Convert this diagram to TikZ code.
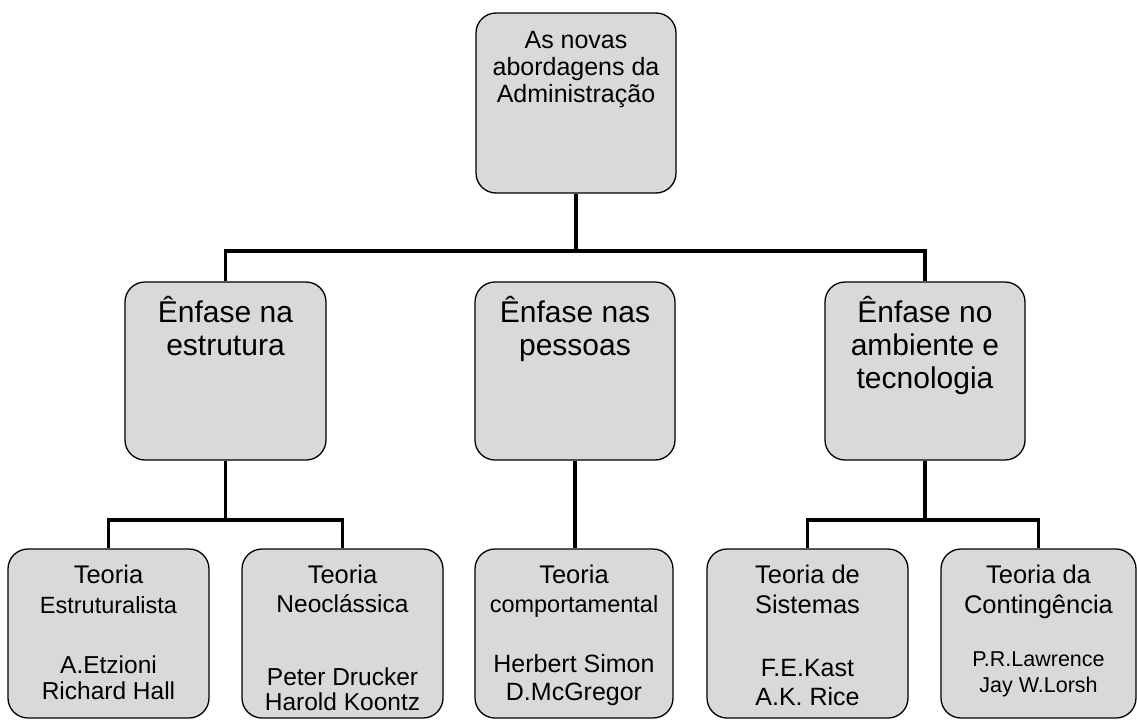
\documentclass[tikz,border=0pt]{standalone}
\usepackage{fontspec}
\setmainfont{Liberation Sans}
\usetikzlibrary{backgrounds}
\definecolor{boxgray}{HTML}{D9D9D9}
\newcommand\fsz[1]{\fontsize{#1}{#1}\selectfont}
\begin{document}
\begin{tikzpicture}[x=1pt,y=-1pt,
  box/.style={draw=black, line width=1.3pt, fill=boxgray, rounded corners=20pt, inner sep=0pt},
  conn/.style={draw=black, line width=3.8pt},
  lbl/.style={anchor=base, inner sep=0pt, text=black}]
\useasboundingbox (0,0) rectangle (1137,720);

% boxes
\node[box, minimum width=200pt, minimum height=180pt] (top) at (576,103) {};
\node[box, minimum width=201pt, minimum height=178pt] (m1) at (225.5,371) {};
\node[box, minimum width=200pt, minimum height=178pt] (m2) at (575,371) {};
\node[box, minimum width=200pt, minimum height=178pt] (m3) at (925,371) {};
\node[box, minimum width=201pt, minimum height=169pt] (b1) at (108.5,633.5) {};
\node[box, minimum width=201pt, minimum height=169pt] (b2) at (342.5,633.5) {};
\node[box, minimum width=198pt, minimum height=169pt] (b3) at (574,633.5) {};
\node[box, minimum width=201pt, minimum height=169pt] (b4) at (807.5,633.5) {};
\node[box, minimum width=195pt, minimum height=169pt] (b5) at (1038.5,633.5) {};

% connectors
\coordinate (lv1) at (0,251);
\coordinate (lv2) at (0,520);
\coordinate (j0) at (top.south |- lv1);
\coordinate (j1) at (m1.south |- lv2);
\coordinate (j3) at (m3.south |- lv2);
\begin{scope}[on background layer]
\draw[conn] (top.south) -- (j0);
\draw[conn] (m1.north) |- (j0) -| (m3.north);
\draw[conn] (m1.south) -- (j1);
\draw[conn] (b1.north) |- (j1) -| (b2.north);
\draw[conn] (m2.south) -- (m2.south |- b3.north);
\draw[conn] (m3.south) -- (j3);
\draw[conn] (b4.north) |- (j3) -| (b5.north);
\end{scope}

% top labels
\node[lbl, font=\fsz{25}] (t1) at (576,48) {As novas};
\node[lbl, font=\fsz{25}] (t2) at (576,75) {abordagens da};
\node[lbl, font=\fsz{25}] (t3) at (576,102) {Administração};

% middle labels
\node[lbl, font=\fsz{30}] (m1a) at (225.5,322) {Ênfase na};
\node[lbl, font=\fsz{30}] (m1b) at (225.5,355) {estrutura};
\node[lbl, font=\fsz{30}] (m2a) at (575,322) {Ênfase nas};
\node[lbl, font=\fsz{30}] (m2b) at (575,355) {pessoas};
\node[lbl, font=\fsz{30}] (m3a) at (925,322) {Ênfase no};
\node[lbl, font=\fsz{30}] (m3b) at (925,355) {ambiente e};
\node[lbl, font=\fsz{30}] (m3c) at (925,388) {tecnologia};

% bottom labels
\node[lbl, font=\fsz{25.5}] (b1a) at (108.5,583) {Teoria};
\node[lbl, font=\fsz{23.5}] (b1b) at (108.5,613) {Estruturalista};
\node[lbl, font=\fsz{24.5}] (b1c) at (108.5,673) {A.Etzioni};
\node[lbl, font=\fsz{24.5}] (b1d) at (108.5,699) {Richard Hall};

\node[lbl, font=\fsz{25.5}] (b2a) at (342.5,583) {Teoria};
\node[lbl, font=\fsz{24.5}] (b2b) at (342.5,612) {Neoclássica};
\node[lbl, font=\fsz{24.5}] (b2c) at (342.5,685) {Peter Drucker};
\node[lbl, font=\fsz{24.5}] (b2d) at (342.5,710) {Harold Koontz};

\node[lbl, font=\fsz{25.5}] (b3a) at (574,583) {Teoria};
\node[lbl, font=\fsz{23.5}] (b3b) at (574,612) {comportamental};
\node[lbl, font=\fsz{25}] (b3c) at (574,672) {Herbert Simon};
\node[lbl, font=\fsz{25}] (b3d) at (574,700) {D.McGregor};

\node[lbl, font=\fsz{25.5}] (b4a) at (807.5,583) {Teoria de};
\node[lbl, font=\fsz{25.5}] (b4b) at (807.5,613) {Sistemas};
\node[lbl, font=\fsz{25}] (b4c) at (807.5,676) {F.E.Kast};
\node[lbl, font=\fsz{25}] (b4d) at (807.5,705) {A.K. Rice};

\node[lbl, font=\fsz{25.5}] (b5a) at (1038.5,583) {Teoria da};
\node[lbl, font=\fsz{25.5}] (b5b) at (1038.5,613) {Contingência};
\node[lbl, font=\fsz{21.5}] (b5c) at (1038.5,666) {P.R.Lawrence};
\node[lbl, font=\fsz{21.5}] (b5d) at (1038.5,692) {Jay W.Lorsh};
\end{tikzpicture}
\end{document}
